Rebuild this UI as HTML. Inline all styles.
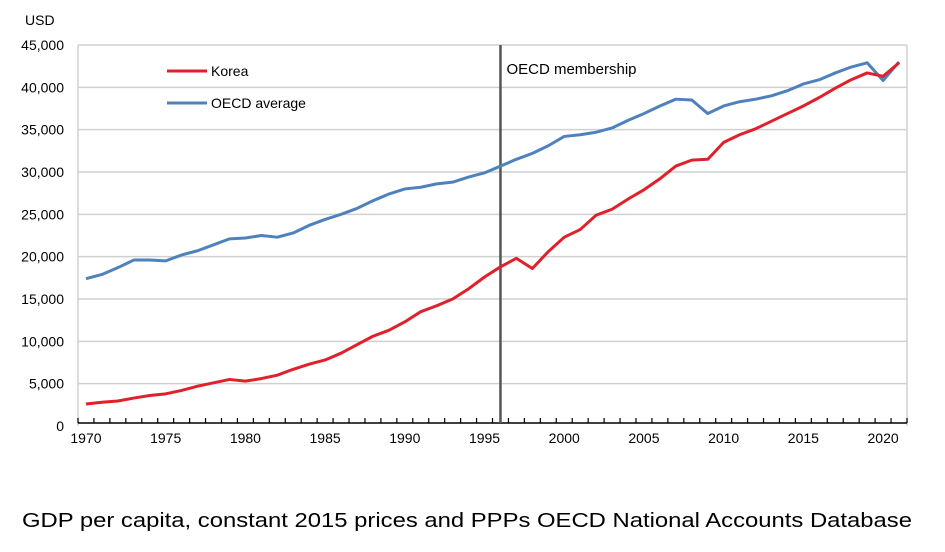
<!DOCTYPE html>
<html><head><meta charset="utf-8"><style>
html,body{margin:0;padding:0;background:#fff;width:945px;height:552px;overflow:hidden}
svg{font-family:"Liberation Sans",Arial,sans-serif}
</style></head><body>
<svg id="chart" width="945" height="552"></svg>
<script>
const years=[1970,1971,1972,1973,1974,1975,1976,1977,1978,1979,1980,1981,1982,1983,1984,1985,1986,1987,1988,1989,1990,1991,1992,1993,1994,1995,1996,1997,1998,1999,2000,2001,2002,2003,2004,2005,2006,2007,2008,2009,2010,2011,2012,2013,2014,2015,2016,2017,2018,2019,2020,2021];
const korea=[2600,2800,2950,3300,3600,3800,4200,4700,5100,5500,5300,5600,6000,6700,7300,7800,8600,9600,10600,11300,12300,13500,14200,15000,16200,17600,18800,19800,18600,20600,22300,23200,24900,25600,26800,27900,29200,30700,31400,31500,33500,34400,35100,36000,36900,37800,38800,39900,40900,41700,41300,42900];
const oecd=[17400,17900,18700,19600,19600,19500,20200,20700,21400,22100,22200,22500,22300,22800,23700,24400,25000,25700,26600,27400,28000,28200,28600,28800,29400,29900,30700,31500,32200,33100,34200,34400,34700,35200,36100,36900,37800,38600,38500,36900,37800,38300,38600,39000,39600,40400,40900,41700,42400,42900,40800,43000];
const yTicks=[0,5000,10000,15000,20000,25000,30000,35000,40000,45000];
const xLabels=[1970,1975,1980,1985,1990,1995,2000,2005,2010,2015,2020];
const markerYear=1996;
const NS="http://www.w3.org/2000/svg";
const svg=document.getElementById('chart');
const L=78,R=907,T=45,B=426;
const CW=(R-L)/52;
const x=y=>L+(y-1970+0.5)*CW;
const yv=v=>B-v/45000*(B-T);
function el(t,a,p){const e=document.createElementNS(NS,t);for(const k in a)e.setAttribute(k,a[k]);(p||svg).appendChild(e);return e;}
yTicks.forEach(v=>{
 if(v>0){const g=el('line',{x1:L,x2:R,y1:yv(v),y2:yv(v),stroke:'#d0d0d0','stroke-width':1.5});
 
 }
 const t=el('text',{x:64,y:yv(v)+5,'text-anchor':'end','font-size':14,fill:'#000'});
 t.textContent=v.toLocaleString('en-US');
 
 
});
const rb=el('line',{x1:R,x2:R,y1:T,y2:B,stroke:'#d0d0d0','stroke-width':1.5});


const lb=el('line',{x1:L,x2:L,y1:T,y2:B,stroke:'#d0d0d0','stroke-width':1.5});


const ax=el('line',{x1:L,x2:R,y1:B-3,y2:B-3,stroke:'#000','stroke-width':1.5});


years.concat([2022]).forEach(yr=>{const xx=x(yr)-CW/2;const tk=el('line',{x1:xx,x2:xx,y1:B-3,y2:B-8,stroke:'#000','stroke-width':1.2});
 
 });
xLabels.forEach(yr=>{const t=el('text',{x:x(yr),y:B+17,'text-anchor':'middle','font-size':14});
 t.textContent=yr;
 
 });
const m=el('line',{x1:x(markerYear),x2:x(markerYear),y1:T,y2:B-3,stroke:'#555','stroke-width':2.5});


const mt=el('text',{x:x(markerYear)+6,y:74,'font-size':15});
mt.textContent='OECD membership';


const ut=el('text',{x:25,y:25,'font-size':14});
ut.textContent='USD';


function series(vals,color,name){
 const p=el('polyline',{points:vals.map((v,i)=>x(years[i])+','+yv(v)).join(' '),fill:'none',stroke:color,'stroke-width':3,'stroke-linejoin':'round'});
 
 
}
series(oecd,'#4f81bd','oecd-average-line');
series(korea,'#e0202a','korea-line');
[['Korea','#e0202a',71],['OECD average','#4f81bd',103]].forEach(([n,c,yy])=>{
 const g=el('g',{});
 
 
 el('line',{x1:167,x2:207,y1:yy,y2:yy,stroke:c,'stroke-width':3},g);
 const t=el('text',{x:211,y:yy+5,'font-size':14},g);t.textContent=n;
});
const cap=el('text',{x:22,y:527,'font-size':20.5,textLength:890,lengthAdjust:'spacingAndGlyphs'});
cap.textContent='GDP per capita, constant 2015 prices and PPPs OECD National Accounts Database';


</script>
</body></html>
